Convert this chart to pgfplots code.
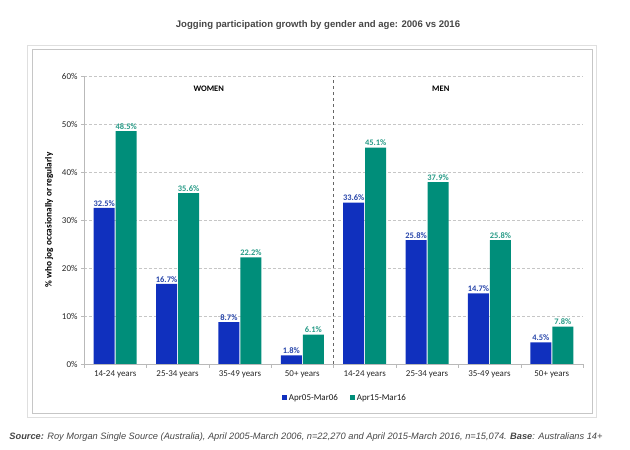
\documentclass[border=0pt]{standalone}
\usepackage{pgfplots}
\pgfplotsset{compat=1.18}
\usepackage{fontspec}
\setmainfont{Liberation Sans}
\newfontfamily\carlito{Carlito}

\definecolor{barblue}{RGB}{16,48,190}
\definecolor{barteal}{RGB}{0,142,122}
\definecolor{lblblue}{RGB}{40,70,170}
\definecolor{lblteal}{RGB}{40,155,135}
\definecolor{txtgrey}{RGB}{70,70,70}

\begin{document}
\begin{tikzpicture}
% page frame, 1px = 1bp
\path (0,0) rectangle (630bp,450bp);
\draw[gray!25, line width=0.8bp] (27bp,33bp) rectangle (596bp,405bp);
\draw[gray!45, line width=0.8bp] (32bp,37bp) rectangle (592bp,401bp);

\node[text=txtgrey, font=\bfseries\fontsize{9.6}{11}\selectfont] at (318bp,425bp)
  {Jogging participation growth by gender and age: 2006 vs 2016};

\node[text=txtgrey, font=\itshape\fontsize{9.3}{11}\selectfont] at (306bp,13bp)
  {\textbf{Source:} Roy Morgan Single Source (Australia), April 2005-March 2006, n=22,270 and April 2015-March 2016, n=15,074. \textbf{Base}: Australians 14+};

\begin{axis}[
    at={(84bp,86bp)}, anchor=south west,
    scale only axis,
    width=499bp, height=288bp,
    xmin=-0.5, xmax=7.5,
    ymin=0, ymax=60,
    ybar=1bp, bar width=21bp,
    axis x line*=bottom, axis y line*=left,
    axis line style={gray!55},
    tick align=outside,
    xtick={0,...,7},
    xticklabels={14-24 years,25-34 years,35-49 years,50+ years,14-24 years,25-34 years,35-49 years,50+ years},
    major x tick style={draw=none},
    minor xtick={-0.5,0.5,...,7.5},
    minor tick length=4bp,
    minor x tick style={gray!55},
    ytick={0,10,...,60},
    major tick length=3bp,
    y tick style={gray!55},
    yticklabel={\pgfmathprintnumber{\tick}\%},
    /pgf/number format/assume math mode=true,
    tick label style={font=\carlito\fontsize{9}{10}\selectfont, text=gray!30!black},
    ymajorgrids,
    grid style={densely dashed, gray!45},
    ylabel={\% who jog occasionally or regularly},
    ylabel style={font=\carlito\bfseries\fontsize{9.3}{10}\selectfont, text=black, yshift=2bp},
    nodes near coords={\pgfmathprintnumber[fixed,fixed zerofill,precision=1]{\pgfplotspointmeta}\%},
    every node near coord/.append style={font=\carlito\bfseries\fontsize{8.5}{10}\selectfont, inner sep=1.5bp},
    legend style={at={(axis description cs:0.523,-0.118)}, anchor=center,
        legend columns=2, draw=none, fill=none,
        font=\carlito\fontsize{9}{10}\selectfont, text=gray!20!black,
        /tikz/every even column/.append style={column sep=10bp}},
    legend image code/.code={\fill[#1] (0bp,-2.5bp) rectangle (5bp,2.5bp);},
]
\addplot[fill=barblue, draw=none, every node near coord/.append style={text=lblblue}]
  coordinates {(0,32.5) (1,16.7) (2,8.7) (3,1.8) (4,33.6) (5,25.8) (6,14.7) (7,4.5)};
\addplot[fill=barteal, draw=none, every node near coord/.append style={text=lblteal}]
  coordinates {(0,48.5) (1,35.6) (2,22.2) (3,6.1) (4,45.1) (5,37.9) (6,25.8) (7,7.8)};
\legend{Apr05-Mar06, Apr15-Mar16}

\draw[dashed, gray!80!black] (axis cs:3.5,0) -- (axis cs:3.5,60);
\node[font=\carlito\bfseries\fontsize{8.5}{10}\selectfont] at (axis cs:1.5,57.3) {WOMEN};
\node[font=\carlito\bfseries\fontsize{8.5}{10}\selectfont] at (axis cs:5.22,57.3) {MEN};
\end{axis}
\end{tikzpicture}
\end{document}
